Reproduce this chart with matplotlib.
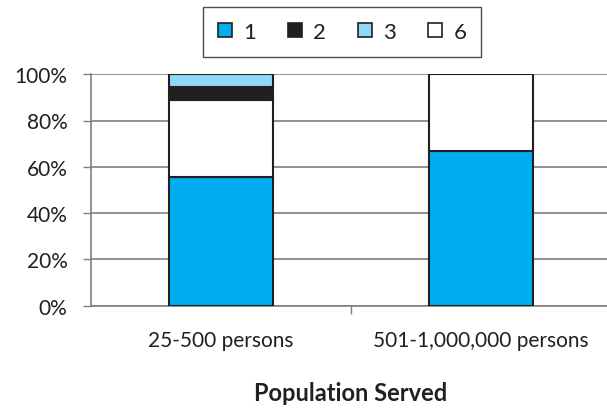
import matplotlib
matplotlib.use("Agg")
import matplotlib.pyplot as plt
from matplotlib.patches import Patch
import numpy as np

categories = ["25-500 persons", "501-1,000,000 persons"]
series_names = ["1", "2", "3", "6"]
s1 = [55.6, 66.7]
s2 = [5.6, 0.0]
s3 = [5.6, 0.0]
s6 = [33.2, 33.3]
y_ticks = [0, 20, 40, 60, 80, 100]
y_ticklabels = ["0%", "20%", "40%", "60%", "80%", "100%"]
xlabel = "Population Served"

colors = {"1": "#00AEEF", "2": "#231F20", "3": "#8ED8F8", "6": "#FFFFFF"}
edge = "#231F20"
txt = "#231F20"

plt.rcParams['font.family'] = ['Lato', 'DejaVu Sans']

fig = plt.figure(figsize=(6.07, 4.10), dpi=100)
ax_h_px = 306.7 - 75.2
ax = fig.add_axes([91/607, 1-306.7/410, 520/607, ax_h_px/410])

x = np.arange(len(categories))
# stacking order bottom->top: 1, 6, 2, 3
order = [("1", s1), ("6", s6), ("2", s2), ("3", s3)]
bottom = np.zeros(len(categories))
for name, vals in order:
    v = np.array(vals)
    mask = v > 0
    ax.bar(x[mask], v[mask], width=0.4, bottom=bottom[mask], color=colors[name],
           edgecolor=edge, linewidth=1.5, zorder=3)
    bottom += v

ax.set_xlim(-0.5, 1.5)
ax.set_ylim(0, 100)
ax.set_yticks(y_ticks)
ax.set_yticklabels(y_ticklabels, fontsize=15, color=txt)
ax.set_xticks([0.5])
ax.set_xticklabels([""])
ax.tick_params(axis='x', length=6, width=1, color="#808080", direction='out')
ax.tick_params(axis='y', length=6, width=1, color="#808080", pad=11)

px = 100.0 / ax_h_px  # data units per pixel
for i, c in enumerate(categories):
    ax.text(i, -40 * px, c, ha='center', va='baseline', fontsize=15, color=txt)
ax.text(0.5, -94 * px, xlabel, ha='center', va='baseline', fontsize=17,
        fontweight='bold', color=txt)

ax.grid(axis='y', color="#808080", linewidth=1.2, zorder=0)
for s in ["top", "right"]:
    ax.spines[s].set_visible(False)
for s in ["left", "bottom"]:
    ax.spines[s].set_color("#808080")
    ax.spines[s].set_linewidth(1.2)

handles = [Patch(facecolor=colors[n], edgecolor=edge, linewidth=1.2, label=n)
           for n in series_names]
leg = fig.legend(handles=handles, loc='center', ncol=4,
                 bbox_to_anchor=(342/607, 1-33/410), frameon=True, fancybox=False,
                 edgecolor=edge, fontsize=16, handlelength=0.63, handleheight=0.63,
                 handletextpad=0.5, columnspacing=1.45, borderpad=0.68)
leg.get_frame().set_linewidth(1.0)
for t in leg.get_texts():
    t.set_color(txt)

fig.savefig("out.png", dpi=100)
